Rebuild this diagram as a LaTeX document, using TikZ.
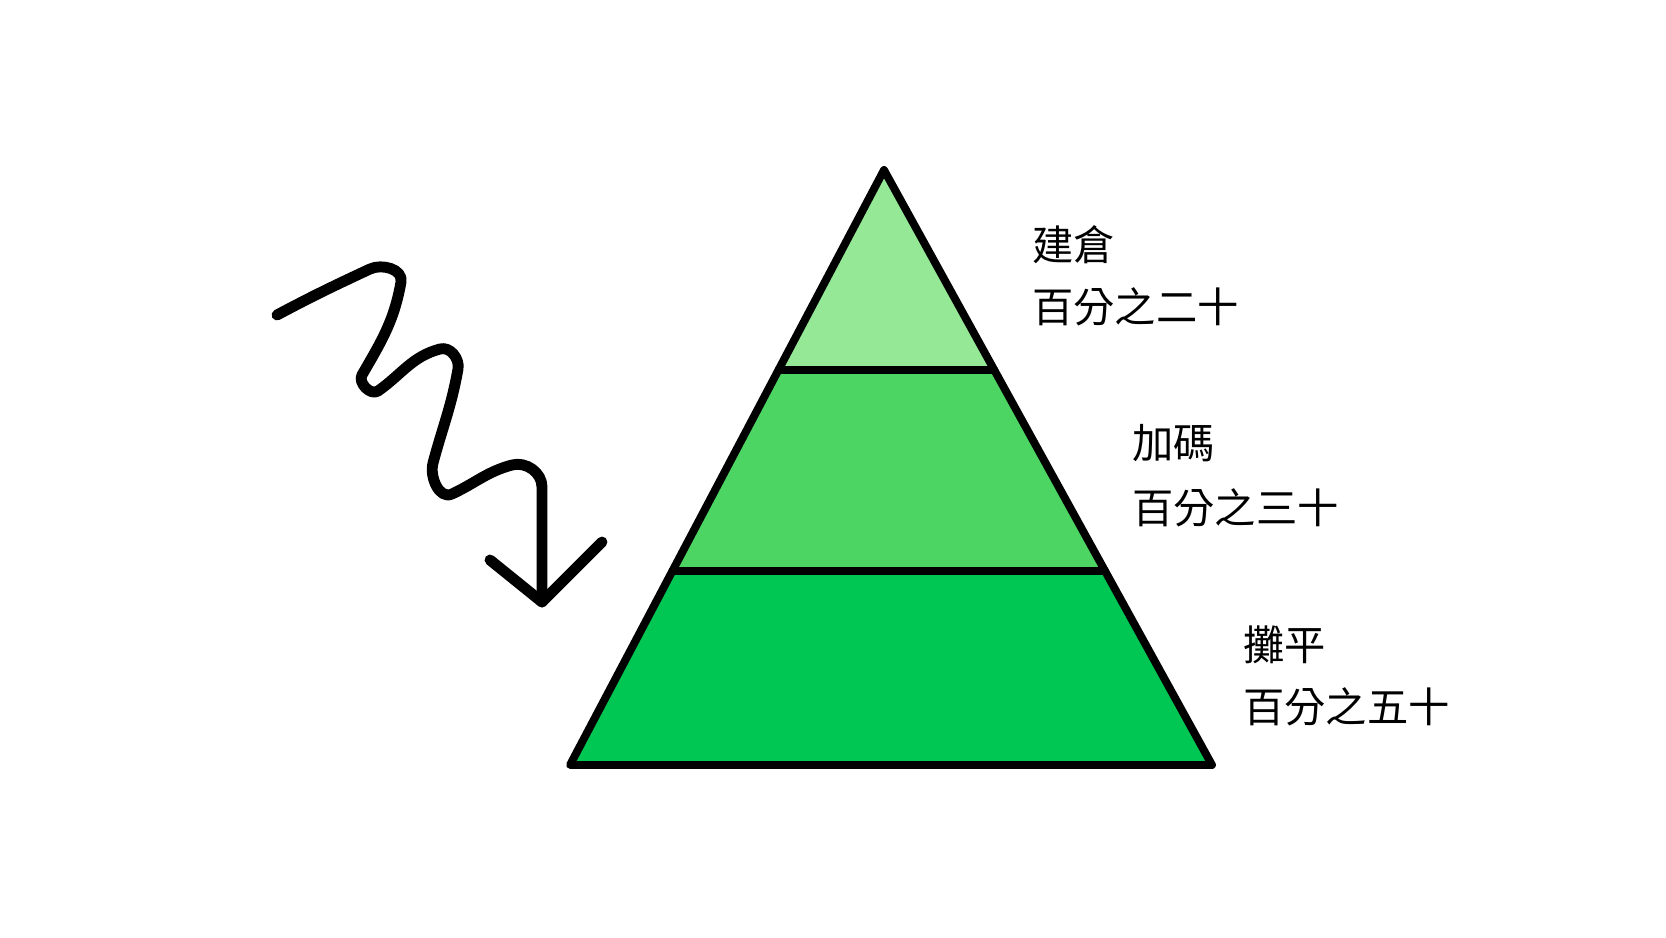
\documentclass[tikz,border=0pt]{standalone}
\usepackage{fontspec}
\newfontfamily\cjk{Noto Sans CJK TC}
\usetikzlibrary{calc}
\usepackage{xcolor}
\definecolor{gruenA}{HTML}{95E896}
\definecolor{gruenB}{HTML}{4CD562}
\definecolor{gruenC}{HTML}{00C653}

\begin{document}
\begin{tikzpicture}[x=0.02cm,y=0.02cm,line join=round,line cap=round]
\useasboundingbox (0,0) rectangle (1666,937);

%Pyramide
\coordinate (spitze) at (884,767);
\coordinate (links) at (570,172);
\coordinate (rechts) at (1212,172);
\coordinate (l1) at ($(spitze)!0.336!(links)$);
\coordinate (r1) at ($(spitze)!0.336!(rechts)$);
\coordinate (l2) at ($(spitze)!0.674!(links)$);
\coordinate (r2) at ($(spitze)!0.674!(rechts)$);

\fill[gruenA] (spitze) -- (l1) -- (r1) -- cycle;
\fill[gruenB] (l1) -- (l2) -- (r2) -- (r1) -- cycle;
\fill[gruenC] (l2) -- (links) -- (rechts) -- (r2) -- cycle;
\draw[line width=4.5pt] (spitze) -- (links) -- (rechts) -- cycle;
\draw[line width=4.5pt] (l1) -- (r1);
\draw[line width=4.5pt] (l2) -- (r2);

%Welle
\coordinate (start) at (277,622);
\coordinate (spitzeP) at (542,335);
\coordinate (fluegelL) at (490,377);
\coordinate (fluegelR) at (602,395);
\draw[line width=6.2pt] (start) to[out=28,in=205] (370,668) to[out=25,in=80] (401,655)
  to[out=-100,in=60] (362,562) to[out=-120,in=215] (378,546)
  to[out=35,in=195] (440,588) to[out=15,in=80] (458,568)
  to[out=-100,in=75] (433,474) to[out=-105,in=205] (452,443)
  to[out=25,in=195] (512,472) to[out=15,in=90] (542,450) -- (spitzeP);
\draw[line width=6.2pt] (fluegelL) -- (spitzeP) -- (fluegelR);

%Beschriftung
\node[anchor=west,inner sep=0pt,font=\cjk\fontsize{23.5}{28}\selectfont] (stufe1) at (1032,692) {建倉};
\node[anchor=west,inner sep=0pt,font=\cjk\fontsize{23.5}{28}\selectfont] (anteil1) at (1032,630) {百分之二十};
\node[anchor=west,inner sep=0pt,font=\cjk\fontsize{23.5}{28}\selectfont] (stufe2) at (1132,494) {加碼};
\node[anchor=west,inner sep=0pt,font=\cjk\fontsize{23.5}{28}\selectfont] (anteil2) at (1132,429) {百分之三十};
\node[anchor=west,inner sep=0pt,font=\cjk\fontsize{23.5}{28}\selectfont] (stufe3) at (1243,292) {攤平};
\node[anchor=west,inner sep=0pt,font=\cjk\fontsize{23.5}{28}\selectfont] (anteil3) at (1243,230) {百分之五十};

\end{tikzpicture}
\end{document}
